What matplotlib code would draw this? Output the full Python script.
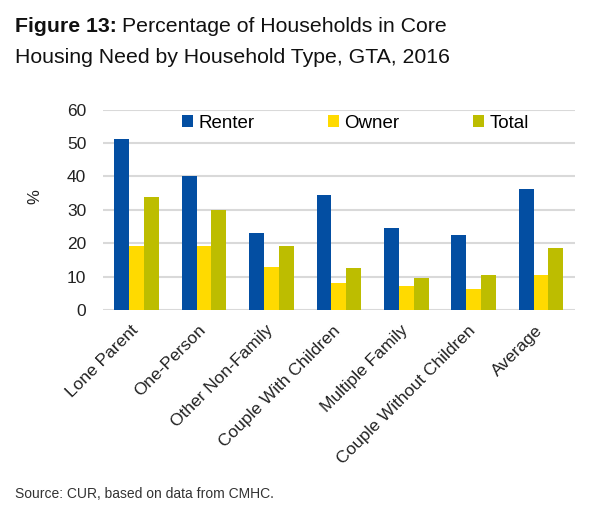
import matplotlib
matplotlib.use("Agg")
import matplotlib.pyplot as plt
import matplotlib.transforms as mtransforms
import numpy as np

plt.rcParams['font.family'] = ['Liberation Sans', 'DejaVu Sans']

categories = ["Lone Parent", "One-Person", "Other Non-Family", "Couple With Children",
              "Multiple Family", "Couple Without Children", "Average"]
renter = [51.2, 40.2, 23.0, 34.3, 24.6, 22.3, 36.1]
owner = [19.1, 19.1, 13.0, 8.1, 7.1, 6.3, 10.5]
total = [33.8, 29.9, 19.1, 12.6, 9.5, 10.5, 18.6]
series_names = ["Renter", "Owner", "Total"]
colors = ["#034EA2", "#FFDA00", "#BDBD00"]
yticks = [0, 10, 20, 30, 40, 50, 60]

fig = plt.figure(figsize=(5.95, 5.13), dpi=100)
ax = fig.add_axes([0.173, 0.396, 0.793, 0.39])

x = np.arange(len(categories))
w = 0.22
for i, (vals, name, c) in enumerate(zip([renter, owner, total], series_names, colors)):
    ax.bar(x + (i - 1) * w, vals, width=w, color=c, label=name, zorder=3)

ax.set_xlim(-0.5, len(categories) - 0.5)
ax.set_ylim(0, 60)
ax.set_yticks(yticks)
ax.yaxis.grid(True, color="#d9d9d9", linewidth=1.5, zorder=0)
ax.set_axisbelow(True)
for s in ax.spines.values():
    s.set_visible(False)
ax.tick_params(axis='both', length=0, labelsize=12.5, colors="#222222")
ax.tick_params(axis='y', pad=12)
ax.set_xticks(x)
ax.set_xticklabels(categories, rotation=45, ha='right', rotation_mode='anchor', fontsize=12.5)
offset = mtransforms.ScaledTranslation(-6 / 100, -8 / 100, fig.dpi_scale_trans)
for lab in ax.get_xticklabels():
    lab.set_transform(lab.get_transform() + offset)
ax.set_ylabel("%", fontsize=12, color="#222222")
ax.yaxis.set_label_coords(-0.128, 0.565)

leg = ax.legend(loc='upper center', bbox_to_anchor=(0.535, 1.06), ncol=3, frameon=False,
                fontsize=13.5, handlelength=0.6, handleheight=0.6, handletextpad=0.3,
                columnspacing=3.9)

# Title with mixed weight
fig.canvas.draw()
r = fig.canvas.get_renderer()
t1 = fig.text(15 / 595, 1 - 32 / 513, "Figure 13:", fontsize=15.3, fontweight='bold',
              color="#111111", va='baseline')
bb = t1.get_window_extent(renderer=r)
fig.text((bb.x1 + 5) / fig.bbox.width, 1 - 32 / 513, "Percentage of Households in Core",
         fontsize=15.3, color="#111111", va='baseline')
fig.text(15 / 595, 1 - 63 / 513, "Housing Need by Household Type, GTA, 2016",
         fontsize=15.3, color="#111111", va='baseline')

fig.text(15 / 595, 1 - 498 / 513, "Source: CUR, based on data from CMHC.",
         fontsize=10, color="#333333", va='baseline')

fig.savefig("out.png", dpi=100)
